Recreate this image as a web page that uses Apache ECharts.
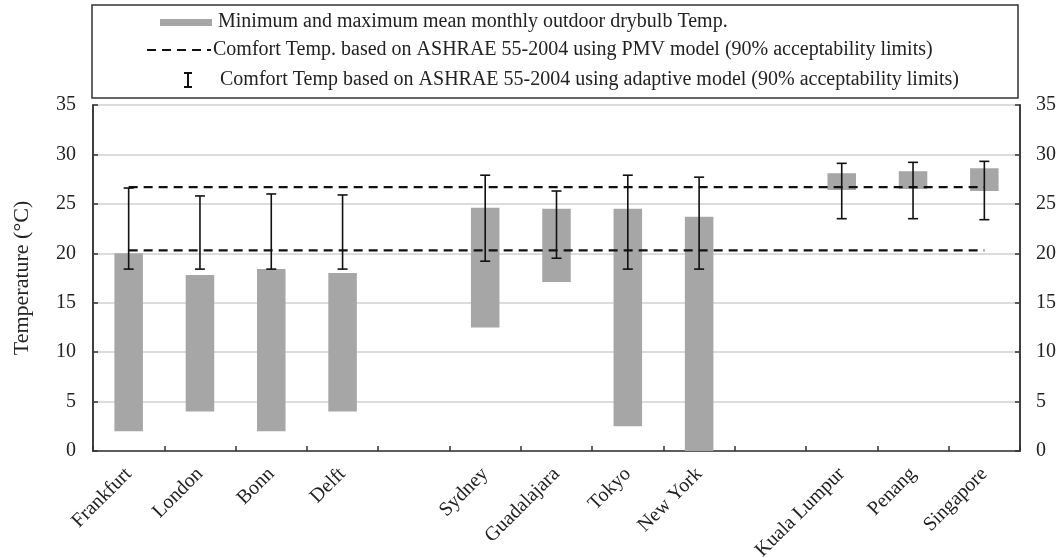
<!DOCTYPE html>
<html>
<head>
<meta charset="utf-8">
<script src="https://cdn.jsdelivr.net/npm/echarts@6/dist/echarts.min.js"></script>
<style>html,body{margin:0;padding:0;background:#fff}#c{width:1063px;height:558px}</style>
</head>
<body>
<div id="c"></div>
<script>
// ---- data ----
const categories = ['Frankfurt','London','Bonn','Delft','','Sydney','Guadalajara','Tokyo','New York','','Kuala Lumpur','Penang','Singapore'];
const outdoorMin = [2.0, 4.0, 2.0, 4.0, null, 12.5, 17.1, 2.5, 0.0, null, 26.4, 26.5, 26.3];
const outdoorMax = [20.0, 17.8, 18.4, 18.0, null, 24.6, 24.5, 24.5, 23.7, null, 28.1, 28.3, 28.6];
const adaptiveLow = [18.4, 18.4, 18.4, 18.4, null, 19.2, 19.5, 18.4, 18.4, null, 23.5, 23.5, 23.4];
const adaptiveHigh = [26.6, 25.8, 26.0, 25.9, null, 27.9, 26.3, 27.9, 27.7, null, 29.1, 29.2, 29.3];
const pmvUpper = 26.7;
const pmvLower = 20.3;
const yTicks = [0, 5, 10, 15, 20, 25, 30, 35];
const legendLabels = [
  'Minimum and maximum mean monthly outdoor drybulb Temp.',
  'Comfort Temp. based on ASHRAE 55-2004 using PMV model (90% acceptability limits)',
  'Comfort Temp based on ASHRAE 55-2004 using adaptive model (90% acceptability limits)'
];

const FONT = 'Liberation Serif';
const FS = 20;
const chart = echarts.init(document.getElementById('c'), null, {renderer: 'canvas'});

const rangeData = categories.map((c, i) => [i, outdoorMin[i], outdoorMax[i]]).filter(d => d[1] != null);
const errData = categories.map((c, i) => [i, adaptiveLow[i], adaptiveHigh[i]]).filter(d => d[1] != null);
const last = categories.length - 1;

chart.setOption({
  animation: false,
  textStyle: {fontFamily: FONT},
  grid: {left: 93, right: 43, top: 105, bottom: 107, outerBoundsMode: 'none', containLabel: false, show: true, borderColor: '#333', borderWidth: 1.5, backgroundColor: 'transparent'},
  xAxis: {
    type: 'category', data: categories, boundaryGap: true,
    axisLine: {show: true, lineStyle: {color: '#333', width: 1.5}},
    axisTick: {show: true, inside: true, length: 5, interval: 0, lineStyle: {color: '#333', width: 1.5}},
    axisLabel: {interval: 0, rotate: 45, margin: 20, color: '#222', fontFamily: FONT, fontSize: FS},
    splitLine: {show: false}
  },
  yAxis: [{
    type: 'value', min: yTicks[0], max: yTicks[yTicks.length - 1], interval: 5,
    name: 'Temperature (°C)', nameLocation: 'middle', nameGap: 60,
    nameTextStyle: {fontFamily: FONT, fontSize: 22, color: '#222'},
    axisLine: {show: true, lineStyle: {color: '#333', width: 1.5}},
    axisTick: {show: true, inside: true, length: 5, lineStyle: {color: '#333', width: 1.5}},
    axisLabel: {color: '#222', fontFamily: FONT, fontSize: FS, margin: 17},
    splitLine: {show: true, lineStyle: {color: '#dcdcdc', width: 2}}
  }, {
    type: 'value', position: 'right', min: yTicks[0], max: yTicks[yTicks.length - 1], interval: 5,
    axisLine: {show: true, lineStyle: {color: '#333', width: 1.5}},
    axisTick: {show: true, inside: true, length: 5, lineStyle: {color: '#333', width: 1.5}},
    axisLabel: {color: '#222', fontFamily: FONT, fontSize: FS, margin: 16},
    splitLine: {show: false}
  }],
  series: [{
    type: 'custom', name: legendLabels[0], z: 2,
    data: rangeData,
    encode: {x: 0, y: [1, 2]},
    renderItem: function (params, api) {
      const lo = api.coord([api.value(0), api.value(1)]);
      const hi = api.coord([api.value(0), api.value(2)]);
      const w = api.size([1, 0])[0] * 0.4;
      return {type: 'rect', shape: {x: lo[0] - w / 2, y: hi[1], width: w, height: lo[1] - hi[1]}, style: {fill: '#a6a6a6'}};
    }
  }, {
    type: 'line', name: legendLabels[1] + ' upper', z: 3, symbol: 'none', silent: true,
    data: [[0, pmvUpper], [last, pmvUpper]],
    lineStyle: {color: '#111', width: 2.2, type: [9, 6]}
  }, {
    type: 'line', name: legendLabels[1] + ' lower', z: 3, symbol: 'none', silent: true,
    data: [[0, pmvLower], [last, pmvLower]],
    lineStyle: {color: '#111', width: 2.2, type: [9, 6]}
  }, {
    type: 'custom', name: legendLabels[2], z: 4,
    data: errData,
    encode: {x: 0, y: [1, 2]},
    renderItem: function (params, api) {
      const lo = api.coord([api.value(0), api.value(1)]);
      const hi = api.coord([api.value(0), api.value(2)]);
      const cw = 5;
      const st = {stroke: '#111', lineWidth: 1.6};
      return {type: 'group', children: [
        {type: 'line', shape: {x1: lo[0], y1: lo[1], x2: hi[0], y2: hi[1]}, style: st},
        {type: 'line', shape: {x1: lo[0] - cw, y1: lo[1], x2: lo[0] + cw, y2: lo[1]}, style: st},
        {type: 'line', shape: {x1: hi[0] - cw, y1: hi[1], x2: hi[0] + cw, y2: hi[1]}, style: st}
      ]};
    }
  }],
  graphic: [
    {type: 'rect', shape: {x: 92, y: 5, width: 926, height: 93}, style: {fill: '#fff', stroke: '#333', lineWidth: 1.5}},
    {type: 'rect', shape: {x: 160, y: 19, width: 52, height: 7}, style: {fill: '#a6a6a6'}},
    {type: 'text', x: 218, y: 22, style: {text: legendLabels[0], fontFamily: FONT, fontSize: FS, fill: '#222', verticalAlign: 'middle'}},
    {type: 'line', shape: {x1: 147, y1: 50, x2: 211, y2: 50}, style: {stroke: '#111', lineWidth: 2.2, lineDash: [9, 6]}},
    {type: 'text', x: 213, y: 50, style: {text: legendLabels[1], fontFamily: FONT, fontSize: FS, fill: '#222', verticalAlign: 'middle'}},
    {type: 'group', children: [
      {type: 'line', shape: {x1: 188, y1: 73, x2: 188, y2: 87}, style: {stroke: '#111', lineWidth: 2}},
      {type: 'line', shape: {x1: 184, y1: 73, x2: 192, y2: 73}, style: {stroke: '#111', lineWidth: 2}},
      {type: 'line', shape: {x1: 184, y1: 87, x2: 192, y2: 87}, style: {stroke: '#111', lineWidth: 2}}
    ]},
    {type: 'text', x: 220, y: 80, style: {text: legendLabels[2], fontFamily: FONT, fontSize: FS, fill: '#222', verticalAlign: 'middle'}}
  ]
});
</script>
</body>
</html>
